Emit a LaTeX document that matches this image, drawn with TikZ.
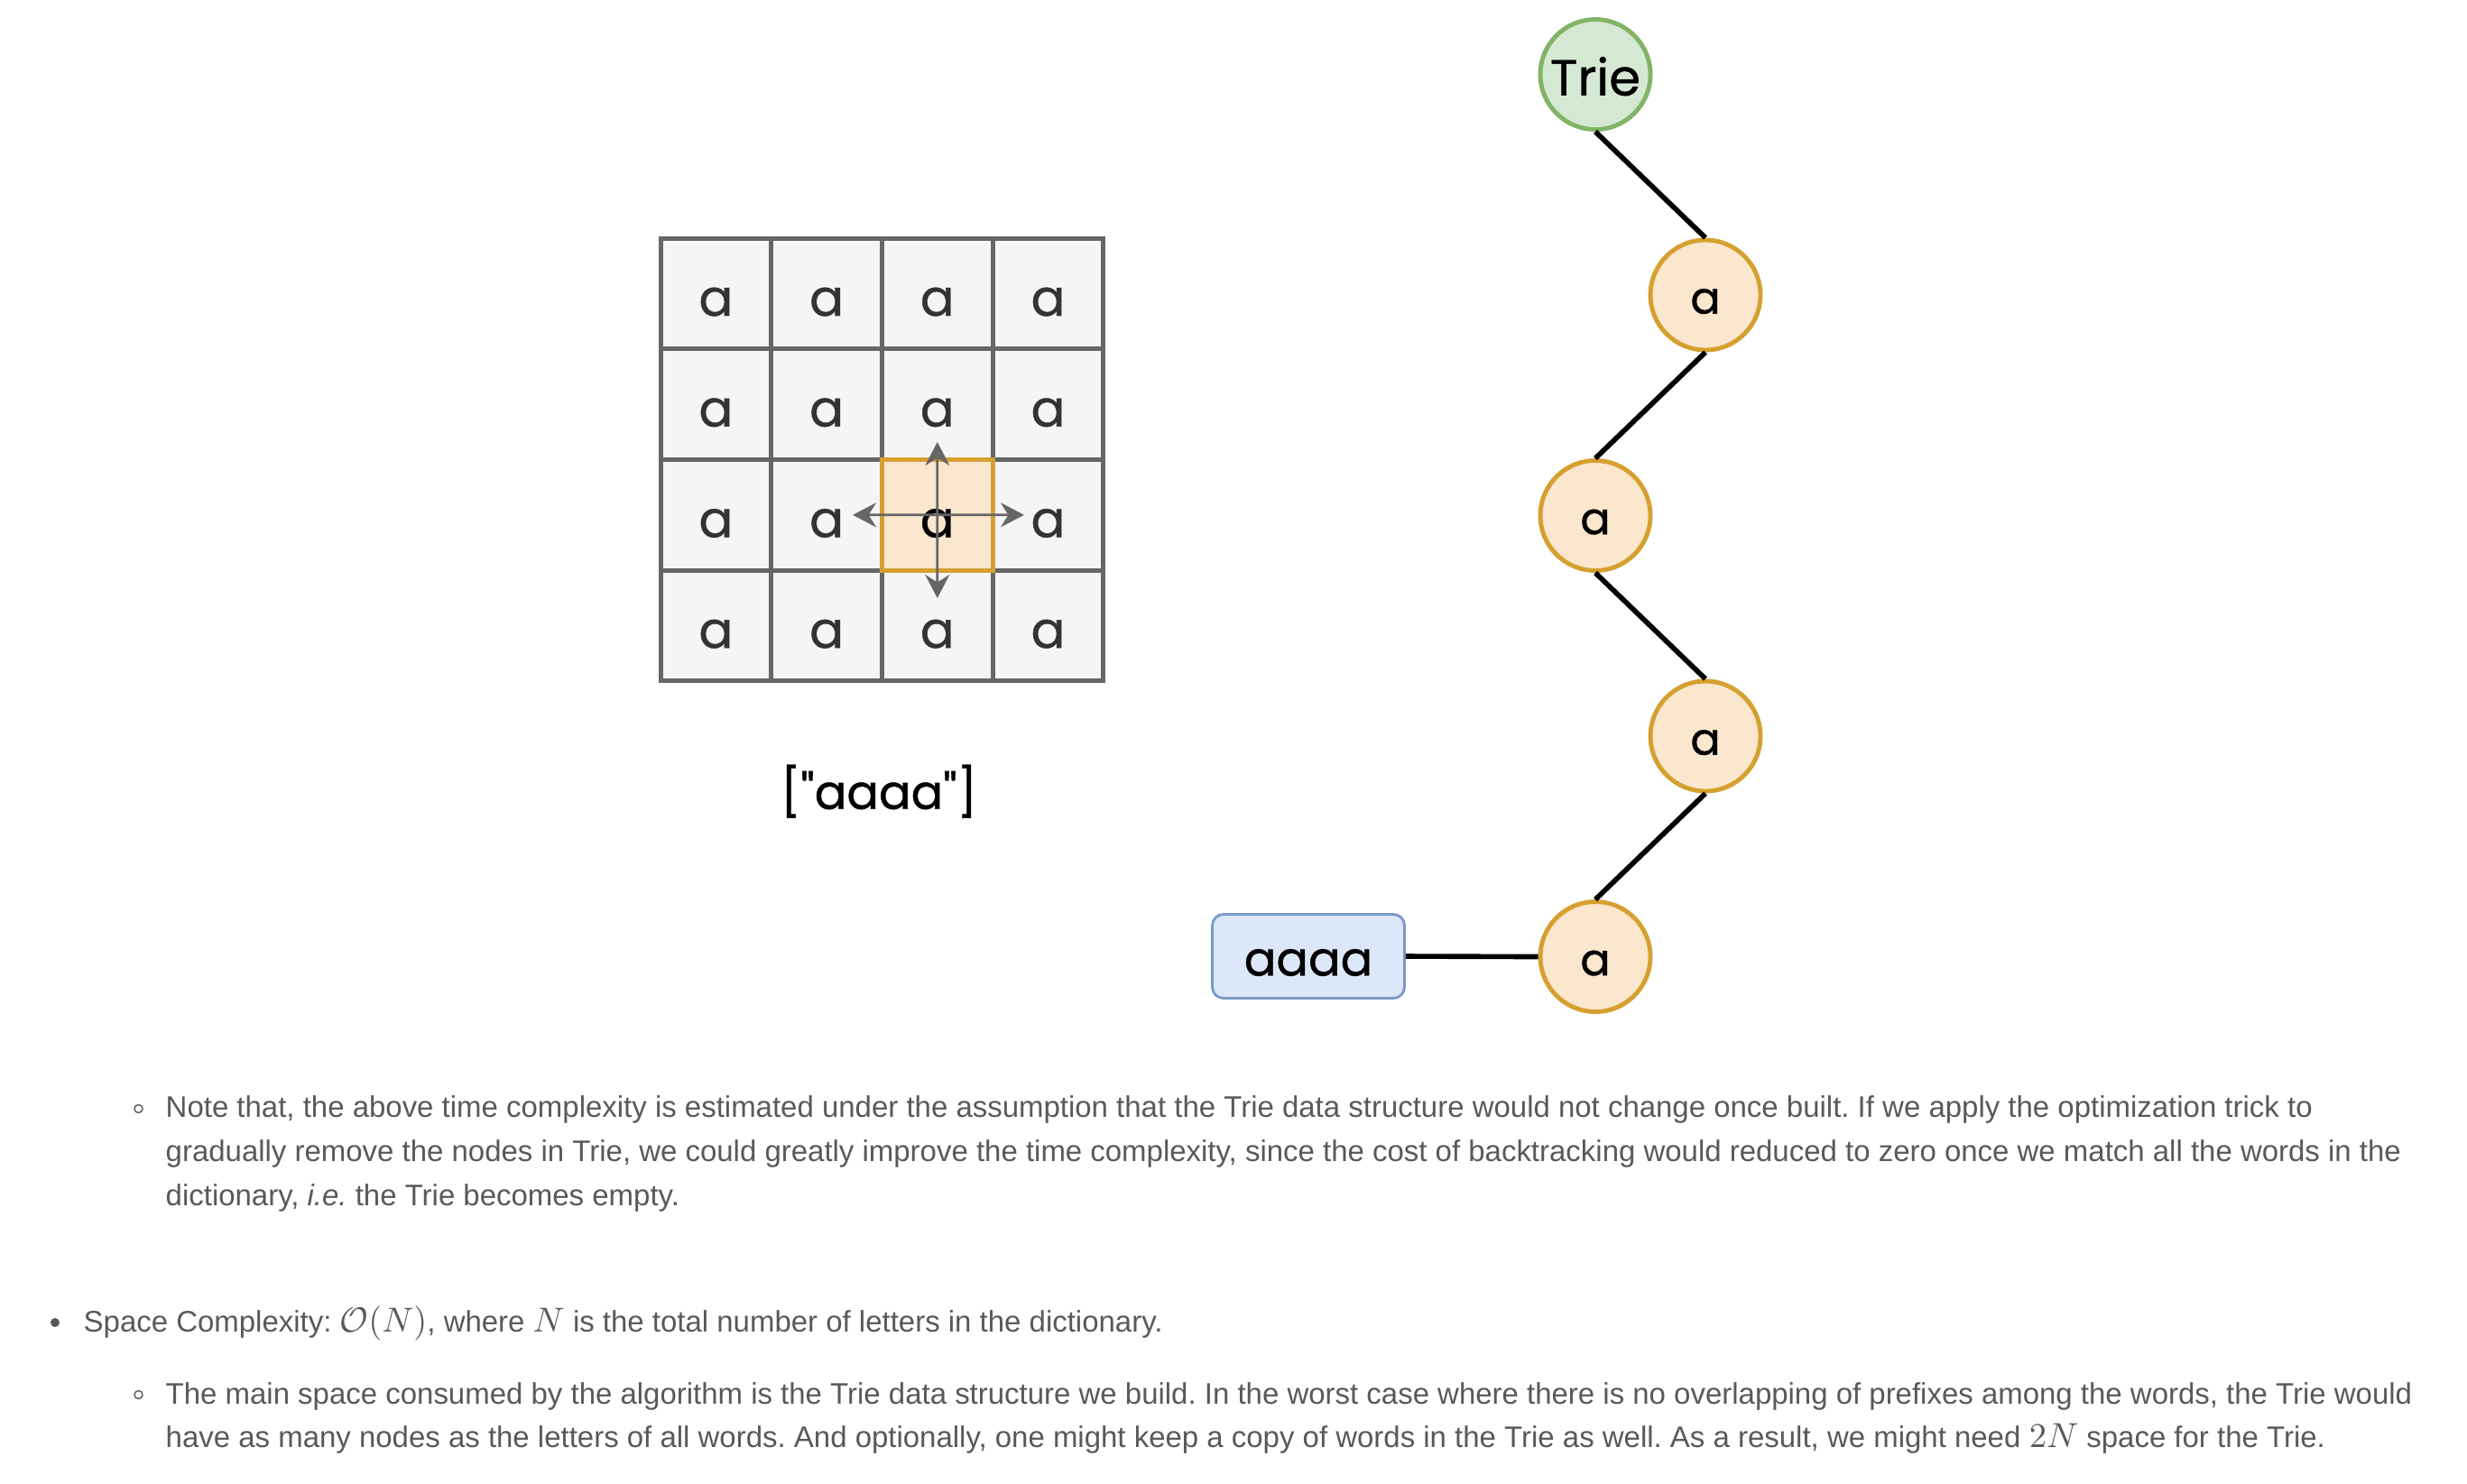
\documentclass[tikz,border=0pt]{standalone}
\usepackage{fontspec}
\setmainfont{Liberation Sans}
\newfontfamily\handfont[FakeBold=0.8]{Poppins}
\usetikzlibrary{arrows.meta, positioning}
\definecolor{gridgray}{HTML}{666666}
\definecolor{gridfill}{HTML}{F5F5F5}
\definecolor{pickorange}{HTML}{D6A030}
\definecolor{pickfill}{HTML}{FBE6CE}
\definecolor{rootgreen}{HTML}{82B366}
\definecolor{rootfill}{HTML}{D5E8D4}
\definecolor{leafblue}{HTML}{7B98C6}
\definecolor{leaffill}{HTML}{DCE7F9}
\definecolor{inkgray}{HTML}{333333}
\definecolor{notegray}{HTML}{595959}
\frenchspacing

\begin{document}
\begin{tikzpicture}[
  cellbox/.style={rectangle, draw=gridgray, fill=gridfill, line width=1.4pt, minimum size=1.227cm, inner sep=0pt, text=inkgray, text height=14pt, text depth=0pt, font=\handfont\fontsize{16}{16}\selectfont},
  pickbox/.style={cellbox, draw=pickorange, fill=pickfill, text=black},
  moveline/.style={-{Stealth[length=2.6mm, width=2.7mm]}, gridgray, line width=0.8pt},
  rootnode/.style={circle, draw=rootgreen, fill=rootfill, line width=1.4pt, minimum size=1.22cm, inner sep=0pt, text height=13.2pt, text depth=0pt, font=\handfont\fontsize{16}{16}\selectfont},
  charnode/.style={circle, draw=pickorange, fill=pickfill, line width=1.4pt, minimum size=1.22cm, inner sep=0pt, text height=11.7pt, text depth=0pt, font=\handfont\fontsize{14}{14}\selectfont},
  wordbox/.style={rectangle, rounded corners=3.5pt, draw=leafblue, fill=leaffill, line width=0.8pt, minimum width=2.13cm, minimum height=0.93cm, text height=12.2pt, text depth=0pt, font=\handfont\fontsize{15}{15}\selectfont},
  trieline/.style={black, line width=1.6pt},
  notetext/.style={anchor=base west, inner sep=0pt, text=notegray, font=\fontsize{9.38}{11}\selectfont},
  dotmark/.style={circle, inner sep=0pt, minimum size=#1},
]
\useasboundingbox (0,0) rectangle (27.34,-16.44);

% Left: the board
\foreach \r in {0,...,3}
  \foreach \c in {0,...,3}
    \node[cellbox] (c\r\c) at ({7.934+1.227*\c}, {-3.254-1.227*\r}) {\ifnum\r\c=22 \else a\fi};

\node[pickbox] (pick) at (c22) {a};

\coordinate (upend) at (10.388, -4.90);
\coordinate (downend) at (10.388, -6.63);
\coordinate (leftend) at (9.45, -5.708);
\coordinate (rightend) at (11.35, -5.708);

\draw[moveline] (pick.center) -- (upend);
\draw[moveline] (pick.center) -- (downend);
\draw[moveline] (pick.center) -- (leftend);
\draw[moveline] (pick.center) -- (rightend);

\node[font=\handfont\fontsize{15}{15}\selectfont] (words) at (9.74, -8.77) {["aaaa"]};

% Right: the trie
\node[rootnode] (trie) at (17.68, -0.825) {Trie};
\node[charnode] (a1) at (18.90, -3.27) {a};
\node[charnode] (a2) at (17.68, -5.715) {a};
\node[charnode] (a3) at (18.90, -8.16) {a};
\node[charnode] (a4) at (17.68, -10.605) {a};
\node[wordbox] (leaf) at (14.50, -10.60) {aaaa};

\draw[trieline] (trie.south) -- (a1.north);
\draw[trieline] (a1.south) -- (a2.north);
\draw[trieline] (a2.south) -- (a3.north);
\draw[trieline] (a3.south) -- (a4.north);
\draw[trieline] (leaf.east) -- (a4.west);

% Notes below
\node[dotmark=0.09cm, draw=notegray, line width=0.4pt] (dot1) at (1.535, -12.29) {};
\node[notetext] (n1) at (1.83, -12.38) {Note that, the above time complexity is estimated under the assumption that the Trie data structure would not change once built. If we apply the optimization trick to};
\node[notetext] (n2) at (1.83, -12.87) {gradually remove the nodes in Trie, we could greatly improve the time complexity, since the cost of backtracking would reduced to zero once we match all the words in the};
\node[notetext] (n3) at (1.83, -13.36) {dictionary, \textit{i.e.} the Trie becomes empty.};

\node[dotmark=0.1cm, fill=notegray] (dot2) at (0.61, -14.66) {};
\node[notetext] (n4) at (0.92, -14.76) {Space Complexity: {\fontsize{10.8}{11}\selectfont$\mathcal{O}(N)$}, where {\fontsize{10.8}{11}\selectfont$N$} is the total number of letters in the dictionary.};

\node[dotmark=0.09cm, draw=notegray, line width=0.4pt] (dot3) at (1.535, -15.46) {};
\node[notetext] (n5) at (1.83, -15.56) {The main space consumed by the algorithm is the Trie data structure we build. In the worst case where there is no overlapping of prefixes among the words, the Trie would};
\node[notetext] (n6) at (1.83, -16.04) {have as many nodes as the letters of all words. And optionally, one might keep a copy of words in the Trie as well. As a result, we might need {\fontsize{10.8}{11}\selectfont$2N$} space for the Trie.};

\end{tikzpicture}
\end{document}
